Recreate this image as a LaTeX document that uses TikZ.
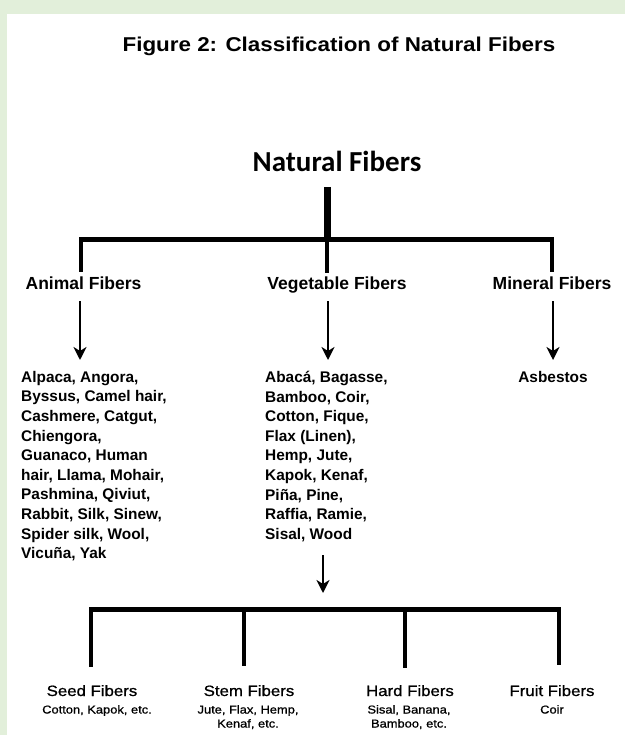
\documentclass[tikz,border=0pt]{standalone}
\usepackage{fontspec}
\setmainfont{Liberation Sans}
\newfontfamily\calib{Carlito}
\newfontfamily\widesans[FakeStretch=1.12]{Liberation Sans}
\newfontfamily\widemed[FakeStretch=1.12,FakeBold=0.8]{Liberation Sans}
\usetikzlibrary{arrows.meta}
\definecolor{bggreen}{HTML}{E2EFDA}
\tikzset{
  thickbar/.style={line width=7pt},
  hbar/.style={line width=5pt},
  drop/.style={line width=4pt},
  downarrow/.style={line width=2.4pt,-{Stealth[length=13pt,width=13pt,inset=4pt]}},
  lvltwo/.style={font=\bfseries\fontsize{17.5}{20}\selectfont, inner sep=0pt, anchor=base},
  listtxt/.style={font=\bfseries\fontsize{15.4}{19.6}\selectfont, inner sep=0pt, align=left, anchor=north west},
  subhead/.style={font=\widemed\fontsize{15}{18}\selectfont, inner sep=0pt, anchor=base},
  subtxt/.style={font=\widemed\fontsize{11.5}{14}\selectfont, inner sep=0pt, align=center, anchor=north},
}
\begin{document}
\begin{tikzpicture}[x=1pt,y=-1pt]
\fill[bggreen] (0,0) rectangle (625,735);
\fill[white] (7,14) rectangle (625,735);
\useasboundingbox (0,0) rectangle (625,735);

% title
\node[anchor=base, inner sep=0pt, font=\widesans\bfseries\fontsize{20}{24}\selectfont] (title) at (339,52) {Figure 2: Classification of Natural Fibers};

% root
\node[anchor=base, inner sep=0pt, font=\calib\bfseries\fontsize{29}{34}\selectfont] (nf) at (337,172) {Natural Fibers};

% junctions top
\coordinate (top) at (327,187);
\coordinate (jmid) at (327,239);
\coordinate (jl) at (81,239);
\coordinate (jr) at (552,239);
\coordinate (dl) at (81,272);
\coordinate (dm) at (327,273);
\coordinate (dr) at (552,272);

\draw[thickbar] (top) -- (jmid);
\draw[hbar] ([xshift=-2pt]jl) -- ([xshift=2pt]jr);
\draw[drop] (jl) -- (dl);
\draw[drop] (jmid) -- (dm);
\draw[drop] (jr) -- (dr);

% level two
\node[lvltwo] (animal) at (83.5,289) {Animal Fibers};
\node[lvltwo] (veg) at (337,289) {Vegetable Fibers};
\node[lvltwo] (mineral) at (552,289) {Mineral Fibers};

% arrows
\coordinate (a1s) at (80,301);
\coordinate (a1e) at (80,360);
\coordinate (a2s) at (328,301);
\coordinate (a2e) at (328,360);
\coordinate (a3s) at (553,301);
\coordinate (a3e) at (553,360);
\draw[downarrow] (a1s) -- (a1e);
\draw[downarrow] (a2s) -- (a2e);
\draw[downarrow] (a3s) -- (a3e);

% lists
\node[listtxt] (alist) at (21,371) {Alpaca, Angora,\\Byssus, Camel hair,\\Cashmere, Catgut,\\Chiengora,\\Guanaco, Human\\hair, Llama, Mohair,\\Pashmina, Qiviut,\\Rabbit, Silk, Sinew,\\Spider silk, Wool,\\Vicuña, Yak};
\node[listtxt] (vlist) at (265,371) {Abacá, Bagasse,\\Bamboo, Coir,\\Cotton, Fique,\\Flax (Linen),\\Hemp, Jute,\\Kapok, Kenaf,\\Piña, Pine,\\Raffia, Ramie,\\Sisal, Wood};
\node[anchor=base, inner sep=0pt, font=\bfseries\fontsize{15.4}{19.6}\selectfont] (asb) at (553,382) {Asbestos};

% second arrow
\coordinate (b0s) at (323,555);
\coordinate (b0e) at (323,593);
\draw[downarrow] (b0s) -- (b0e);

% bottom tree
\coordinate (k1) at (91,609);
\coordinate (k2) at (244,609);
\coordinate (k3) at (405,609);
\coordinate (k4) at (559,609);
\coordinate (e1) at (91,667);
\coordinate (e2) at (244,666);
\coordinate (e3) at (405,668);
\coordinate (e4) at (559,665);
\draw[hbar] ([xshift=-2pt]k1) -- ([xshift=2pt]k4);
\draw[drop] (k1) -- (e1);
\draw[drop] (k2) -- (e2);
\draw[drop] (k3) -- (e3);
\draw[drop] (k4) -- (e4);

\node[subhead] (seed) at (92,696) {Seed Fibers};
\node[subhead] (stem) at (249,696) {Stem Fibers};
\node[subhead] (hard) at (410,696) {Hard Fibers};
\node[subhead] (fruit) at (552,696) {Fruit Fibers};

\node[subtxt] (seedt) at (97,705) {Cotton, Kapok, etc.};
\node[subtxt] (stemt) at (248,705) {Jute, Flax, Hemp,\\Kenaf, etc.};
\node[subtxt] (hardt) at (409,705) {Sisal, Banana,\\Bamboo, etc.};
\node[subtxt] (fruitt) at (552,705) {Coir};
\end{tikzpicture}
\end{document}
